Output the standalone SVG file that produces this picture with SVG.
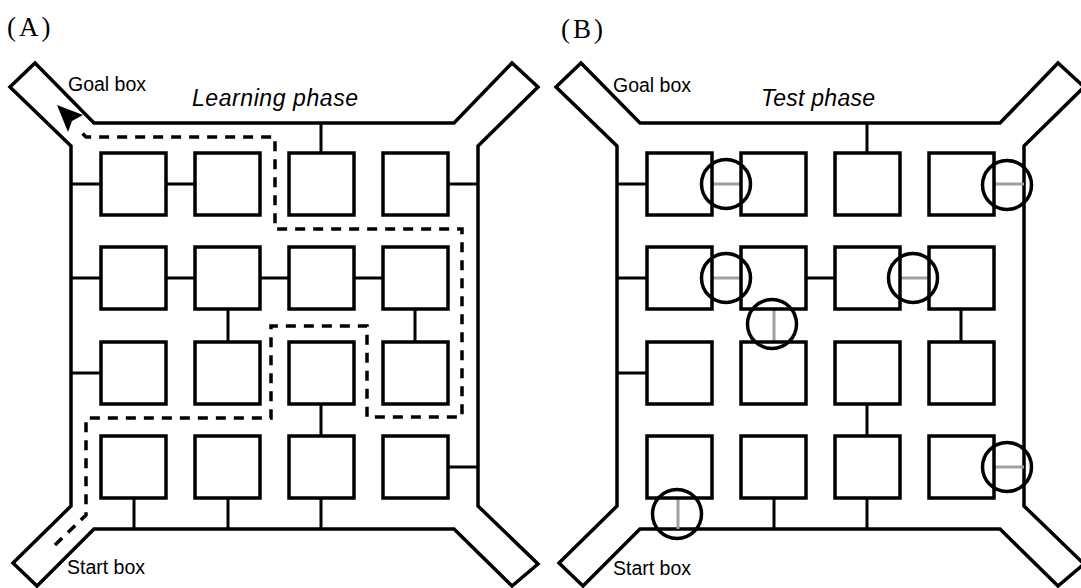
<svg xmlns="http://www.w3.org/2000/svg" width="1081" height="588" viewBox="0 0 1081 588">
  <style>
    .wall { fill: none; stroke: #000; stroke-width: 3.5; stroke-linejoin: miter; }
    .cell { fill: #fff; stroke: #000; stroke-width: 3.5; }
    .link { fill: none; stroke: #000; stroke-width: 3; }
    .closed { fill: none; stroke: #a0a0a0; stroke-width: 3; }
    .ring { fill: none; stroke: #000; stroke-width: 3.5; }
    .route { fill: none; stroke: #000; stroke-width: 3.5; stroke-dasharray: 10 8; }
    .lbl { font-family: "Liberation Sans", Arial, sans-serif; font-size: 19.5px; fill: #000; }
    .phase { font-family: "Liberation Sans", Arial, sans-serif; font-size: 23px; font-style: italic; fill: #000; }
    .panel { font-family: "Liberation Serif", "Times New Roman", serif; font-size: 27px; letter-spacing: 3px; fill: #000; }
  </style>
  <defs>
    <!-- outer corridor with the four arms -->
    <polygon id="frame" points="94,123 454,123 512,63 538,87 478,146 478,506 538,564 512,586 454,529 94,529 37,586 13,563 71,506 71,146 10,87 35,63"/>
    <!-- one 4x4 grid of cells -->
    <g id="cells">
      <rect x="101" y="153" width="65" height="62"/>
      <rect x="195" y="153" width="65" height="62"/>
      <rect x="289" y="153" width="65" height="62"/>
      <rect x="383" y="153" width="65" height="62"/>
      <rect x="101" y="247" width="65" height="62"/>
      <rect x="195" y="247" width="65" height="62"/>
      <rect x="289" y="247" width="65" height="62"/>
      <rect x="383" y="247" width="65" height="62"/>
      <rect x="101" y="342" width="65" height="62"/>
      <rect x="195" y="342" width="65" height="62"/>
      <rect x="289" y="342" width="65" height="62"/>
      <rect x="383" y="342" width="65" height="62"/>
      <rect x="101" y="436" width="65" height="62"/>
      <rect x="195" y="436" width="65" height="62"/>
      <rect x="289" y="436" width="65" height="62"/>
      <rect x="383" y="436" width="65" height="62"/>
    </g>
  </defs>

  <!-- Panel A: learning phase -->
  <text class="panel" x="7" y="36">(A)</text>
  <g id="maze-a">
    <g id="maze-a-frame"><use href="#frame" class="wall"/></g>
    <g id="maze-a-connectors">
      <path class="link" d="M71,184 H101 M166,184 H195 M321,123 V153 M448,184 H478
                            M71,278 H101 M166,278 H195 M260,278 H289 M354,278 H383
                            M228,309 V342 M415,309 V342
                            M71,373 H101 M321,404 V436
                            M134,498 V529 M228,498 V529 M321,498 V529 M448,467 H478"/>
    </g>
    <g id="maze-a-cells"><use href="#cells" class="cell"/></g>
    <g id="maze-a-route">
      <path class="route" d="M55,545 L86,515 V418 H271 V326 H367 V417 H462 V229 H275 V137 H86 L77,128"/>
      <polygon points="57,105 83,115 72,121 68,132" fill="#000"/>
    </g>
    <text class="lbl" x="68" y="91">Goal box</text>
    <text class="phase" x="192" y="106" textLength="166" lengthAdjust="spacing">Learning phase</text>
    <text class="lbl" x="67" y="574">Start box</text>
  </g>

  <!-- Panel B: test phase -->
  <text class="panel" x="561" y="38">(B)</text>
  <g id="maze-b" transform="translate(546,0)">
    <g id="maze-b-frame"><use href="#frame" class="wall"/></g>
    <g id="maze-b-connectors">
      <path class="link" d="M71,184 H101 M321,123 V153
                            M71,278 H101 M260,278 H289
                            M415,309 V342
                            M71,373 H101 M321,404 V436
                            M228,498 V529 M321,498 V529"/>
      <path class="closed" d="M166,184 H195 M448,184 H478
                              M166,278 H195 M354,278 H383
                              M228,309 V342
                              M132,498 V529 M448,467 H478"/>
    </g>
    <g id="maze-b-cells"><use href="#cells" class="cell"/></g>
    <g id="maze-b-blocks">
      <circle class="ring" cx="180" cy="184" r="24.5"/>
      <circle class="ring" cx="461" cy="185" r="24.5"/>
      <circle class="ring" cx="180" cy="278" r="24.5"/>
      <circle class="ring" cx="367" cy="278" r="24.5"/>
      <circle class="ring" cx="226" cy="324" r="24.5"/>
      <circle class="ring" cx="131" cy="514" r="24.5"/>
      <circle class="ring" cx="461" cy="467" r="24.5"/>
    </g>
    <text class="lbl" x="67" y="92">Goal box</text>
    <text class="phase" x="215" y="106" textLength="114" lengthAdjust="spacing">Test phase</text>
    <text class="lbl" x="67" y="575">Start box</text>
  </g>
</svg>
